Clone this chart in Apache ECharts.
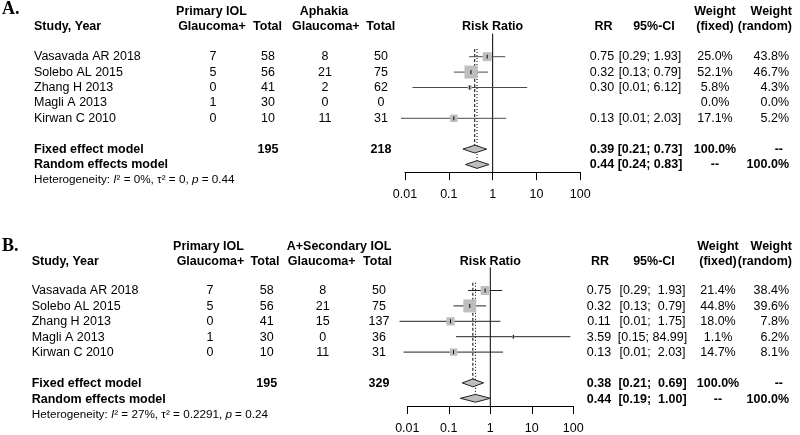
<!DOCTYPE html>
<html>
<head>
<meta charset="utf-8">
<script src="https://cdn.jsdelivr.net/npm/echarts@6/dist/echarts.min.js"></script>
<style>
  html, body { margin: 0; padding: 0; background: #fff; }
  #chart { width: 800px; height: 435px; }
</style>
</head>
<body>
<div id="chart"></div>
<script>
const studies = ['Vasavada AR 2018', 'Solebo AL 2015', 'Zhang H 2013', 'Magli A 2013', 'Kirwan C 2010'];
const modelLabels = ['Fixed effect model', 'Random effects model'];
const tickValues = [0.01, 0.1, 1, 10, 100];
const tickLabels = ['0.01', '0.1', '1', '10', '100'];

// A. primary IOL vs aphakia
const aExpEvents = [7, 5, 0, 1, 0];
const aExpTotal = [58, 56, 41, 30, 10];
const aCtrlEvents = [8, 21, 2, 0, 11];
const aCtrlTotal = [50, 75, 62, 0, 31];
const aRR = [0.75, 0.32, 0.30, null, 0.13];
const aLower = [0.29, 0.13, 0.0148, null, 0.0081];
const aUpper = [1.93, 0.79, 6.12, null, 2.03];
const aWeightFixed = [25.0, 52.1, 5.8, 0.0, 17.1];
const aWeightRandom = [43.8, 46.7, 4.3, 0.0, 5.2];
const aPooledRR = [0.39, 0.44];
const aPooledLower = [0.21, 0.24];
const aPooledUpper = [0.73, 0.83];
const aTotals = [195, 218];
const aHet = ['0%', '0', '0.44'];

// B. primary IOL vs aphakia + secondary IOL
const bExpEvents = [7, 5, 0, 1, 0];
const bExpTotal = [58, 56, 41, 30, 10];
const bCtrlEvents = [8, 21, 15, 0, 11];
const bCtrlTotal = [50, 75, 137, 36, 31];
const bRR = [0.75, 0.32, 0.11, 3.59, 0.13];
const bLower = [0.29, 0.13, 0.0065, 0.15, 0.0081];
const bUpper = [1.93, 0.79, 1.75, 84.99, 2.03];
const bWeightFixed = [21.4, 44.8, 18.0, 1.1, 14.7];
const bWeightRandom = [38.4, 39.6, 7.8, 6.2, 8.1];
const bPooledRR = [0.38, 0.44];
const bPooledLower = [0.21, 0.19];
const bPooledUpper = [0.69, 1.00];
const bTotals = [195, 329];
const bHet = ['27%', '0.2291', '0.24'];

const FONT = '"Liberation Sans", Arial, sans-serif';
const FS = 12.5;
const HET_FS = 11.7;

const panels = [
  {
    letter: 'A.', expLabel: 'Primary IOL', ctrlLabel: 'Aphakia',
    expEvents: aExpEvents, expTotal: aExpTotal, ctrlEvents: aCtrlEvents, ctrlTotal: aCtrlTotal,
    rr: aRR, lower: aLower, upper: aUpper, wFixed: aWeightFixed, wRandom: aWeightRandom,
    pooledRR: aPooledRR, pooledLower: aPooledLower, pooledUpper: aPooledUpper, totals: aTotals, het: aHet,
    L: {
      top: 33.6, height: 138.6, plotLeft: 405, plotWidth: 175.3, ciColor: '#4a4a4a',
      letterRow: -2.07, h1Row: -1.92, h2Row: -0.95,
      study: 34, g1: 213, n1: 268, g2: 325, n2: 381, rr: 602, ci: 650, wf: 715, wr: 789,
      h1: 211.5, g1H: 212, n1H: 267.5, h2: 324, g2H: 325.8, n2H: 380.8, rrH: 603.5, ciH: 654, wfH: 715, wrH: 792
    }
  },
  {
    letter: 'B.', expLabel: 'Primary IOL', ctrlLabel: 'A+Secondary IOL',
    expEvents: bExpEvents, expTotal: bExpTotal, ctrlEvents: bCtrlEvents, ctrlTotal: bCtrlTotal,
    rr: bRR, lower: bLower, upper: bUpper, wFixed: bWeightFixed, wRandom: bWeightRandom,
    pooledRR: bPooledRR, pooledLower: bPooledLower, pooledUpper: bPooledUpper, totals: bTotals, het: bHet,
    L: {
      top: 267.4, height: 139.95, plotLeft: 407.3, plotWidth: 166, ciColor: '#222',
      letterRow: -1.83, h1Row: -1.83, h2Row: -0.87,
      study: 31.7, g1: 210, n1: 266.7, g2: 322.7, n2: 379, rr: 599, ci: 652.5, wf: 718, wr: 789,
      h1: 208.5, g1H: 210.5, n1H: 265, h2: 339, g2H: 321.7, n2H: 377.5, rrH: 600, ciH: 654, wfH: 718, wrH: 792
    }
  }
];

function fmtCI(lo, up, wl, wu) {
  return '[' + lo.toFixed(2).padStart(wl) + '; ' + up.toFixed(2).padStart(wu) + ']';
}

const grids = [], xAxes = [], yAxes = [], series = [];

panels.forEach((p, k) => {
  const L = p.L;
  const tg = k * 2, pg = k * 2 + 1;
  grids.push({ left: 0, width: 800, top: L.top, height: L.height });
  grids.push({ left: L.plotLeft, width: L.plotWidth, top: L.top, height: L.height });

  xAxes.push({ gridIndex: tg, type: 'value', min: 0, max: 800, show: false });
  xAxes.push({
    gridIndex: pg, type: 'log', logBase: 10, min: 0.01, max: 100, position: 'bottom',
    axisLine: { show: true, onZero: false, lineStyle: { color: '#000', width: 1 } },
    axisTick: { show: true, inside: false, length: 8, lineStyle: { color: '#000' } },
    axisLabel: {
      color: '#000', fontSize: FS, fontFamily: FONT, margin: 16,
      formatter: v => {
        const i = tickValues.findIndex(t => Math.abs(Math.log10(t) - Math.log10(v)) < 1e-6);
        return i >= 0 ? tickLabels[i] : '';
      }
    },
    splitLine: { show: false }
  });
  [tg, pg].forEach(g => yAxes.push({ gridIndex: g, type: 'value', min: -0.5, max: 8.5, inverse: true, show: false }));

  // table text cells
  const cells = [];
  const add = (x, row, text, bold, align) => cells.push({ x, row, text: String(text), bold, align: align || 'center' });
  const wl = Math.max(...p.lower.concat(p.pooledLower).filter(v => v != null).map(v => v.toFixed(2).length));
  const wu = Math.max(...p.upper.concat(p.pooledUpper).filter(v => v != null).map(v => v.toFixed(2).length));

  cells.push({ x: 2, row: L.letterRow, text: p.letter, font: 'bold 18px "Liberation Serif", "Times New Roman", serif', align: 'left' });
  add(L.h1, L.h1Row, p.expLabel, true);
  add(L.h2, L.h1Row, p.ctrlLabel, true);
  add(L.wfH, L.h1Row, 'Weight', true);
  add(L.wrH, L.h1Row, 'Weight', true, 'right');
  add(L.study, L.h2Row, 'Study, Year', true, 'left');
  add(L.g1H, L.h2Row, 'Glaucoma+', true);
  add(L.n1H, L.h2Row, 'Total', true);
  add(L.g2H, L.h2Row, 'Glaucoma+', true);
  add(L.n2H, L.h2Row, 'Total', true);
  add(L.rrH, L.h2Row, 'RR', true);
  add(L.ciH, L.h2Row, '95%-CI', true);
  add(L.wfH, L.h2Row, '(fixed)', true);
  add(L.wrH, L.h2Row, '(random)', true, 'right');

  studies.forEach((s, i) => {
    const row = i + 1;
    add(L.study, row, s, false, 'left');
    add(L.g1, row, p.expEvents[i]);
    add(L.n1, row, p.expTotal[i]);
    add(L.g2, row, p.ctrlEvents[i]);
    add(L.n2, row, p.ctrlTotal[i]);
    if (p.rr[i] != null) {
      add(L.rr, row, p.rr[i].toFixed(2));
      add(L.ci, row, fmtCI(p.lower[i], p.upper[i], wl, wu));
    }
    add(L.wf, row, p.wFixed[i].toFixed(1) + '%');
    add(L.wr, row, p.wRandom[i].toFixed(1) + '%', false, 'right');
  });

  modelLabels.forEach((m, j) => {
    const row = 7 + j;
    add(L.study, row, m, true, 'left');
    if (j === 0) {
      add(L.n1, row, p.totals[0], true);
      add(L.n2, row, p.totals[1], true);
    }
    add(L.rr, row, p.pooledRR[j].toFixed(2), true);
    add(L.ci, row, fmtCI(p.pooledLower[j], p.pooledUpper[j], wl, wu), true);
    add(L.wf, row, j === 0 ? '100.0%' : '--', true);
    add(j === 0 ? L.wr - 6 : L.wr, row, j === 0 ? '--' : '100.0%', true, 'right');
  });

  cells.push({
    x: L.study, row: 9, align: 'left',
    text: '{n|Heterogeneity: }{i|I}{n|\u00b2 = ' + p.het[0] + ', \u03c4\u00b2 = ' + p.het[1] + ', }{i|p}{n| = ' + p.het[2] + '}',
    rich: {
      n: { fontSize: HET_FS, fontFamily: FONT, fill: '#000' },
      i: { fontSize: HET_FS, fontFamily: FONT, fontStyle: 'italic', fill: '#000' }
    }
  });

  series.push({
    type: 'custom', xAxisIndex: tg, yAxisIndex: tg, clip: false, silent: true,
    data: cells.map(c => [c.x, c.row]),
    renderItem: (params, api) => {
      const c = cells[params.dataIndex];
      const pt = api.coord([api.value(0), api.value(1)]);
      const style = {
        text: c.text, fill: '#000',
        font: c.font || ((c.bold ? 'bold ' : '') + FS + 'px ' + FONT),
        textAlign: c.align, textVerticalAlign: 'middle'
      };
      if (c.rich) style.rich = c.rich;
      return { type: 'text', x: pt[0], y: pt[1], style };
    }
  });

  // reference lines: no effect, fixed (dashed), random (dotted)
  const refX = [1, p.pooledRR[0], p.pooledRR[1]];
  const refFrom = [-0.5, 0.5, 0.5];
  const refTo = [8.5, 7, 8];
  const refDash = [null, [3, 2], [1, 2]];
  series.push({
    type: 'custom', xAxisIndex: pg, yAxisIndex: pg, clip: false, silent: true, z: 1,
    data: refX.map((x, i) => [x, refFrom[i], refTo[i]]),
    renderItem: (params, api) => {
      const a = api.coord([api.value(0), api.value(1)]);
      const b = api.coord([api.value(0), api.value(2)]);
      const dash = refDash[params.dataIndex];
      return {
        type: 'line', shape: { x1: a[0], y1: a[1], x2: b[0], y2: b[1] },
        style: { stroke: '#000', lineWidth: 1, lineDash: dash || null }
      };
    }
  });

  // study estimates: CI line, weighted box, estimate tick
  const maxW = Math.max(...p.wFixed);
  const studyData = [];
  p.rr.forEach((r, i) => { if (r != null) studyData.push([r, i + 1, p.lower[i], p.upper[i], p.wFixed[i]]); });
  series.push({
    type: 'custom', xAxisIndex: pg, yAxisIndex: pg, clip: false, silent: true, z: 3,
    data: studyData,
    renderItem: (params, api) => {
      const row = api.value(1);
      const c = api.coord([api.value(0), row]);
      const lo = api.coord([api.value(2), row]);
      const up = api.coord([api.value(3), row]);
      const s = 13 * Math.sqrt(api.value(4) / maxW);
      return {
        type: 'group',
        children: [
          { type: 'line', shape: { x1: lo[0], y1: c[1], x2: up[0], y2: c[1] }, style: { stroke: L.ciColor, lineWidth: 1 } },
          { type: 'rect', shape: { x: c[0] - s / 2, y: c[1] - s / 2, width: s, height: s }, style: { fill: '#bebebe' } },
          { type: 'line', shape: { x1: c[0], y1: c[1] - 2, x2: c[0], y2: c[1] + 2 }, style: { stroke: '#000', lineWidth: 1 } }
        ]
      };
    }
  });

  // pooled diamonds
  series.push({
    type: 'custom', xAxisIndex: pg, yAxisIndex: pg, clip: false, silent: true, z: 3,
    data: p.pooledRR.map((r, j) => [r, 7 + j, p.pooledLower[j], p.pooledUpper[j]]),
    renderItem: (params, api) => {
      const row = api.value(1);
      const c = api.coord([api.value(0), row]);
      const lo = api.coord([api.value(2), row]);
      const up = api.coord([api.value(3), row]);
      const h = 3.9;
      return {
        type: 'polygon',
        shape: { points: [[lo[0], c[1]], [c[0], c[1] - h], [up[0], c[1]], [c[0], c[1] + h]] },
        style: { fill: '#bebebe', stroke: '#222', lineWidth: 1 }
      };
    }
  });

  // "Risk Ratio" header centred on the null line
  series.push({
    type: 'custom', xAxisIndex: pg, yAxisIndex: pg, clip: false, silent: true, z: 4,
    data: [[1, L.h2Row]],
    renderItem: (params, api) => {
      const pt = api.coord([api.value(0), api.value(1)]);
      return {
        type: 'text', x: pt[0], y: pt[1],
        style: { text: 'Risk Ratio', fill: '#000', font: 'bold ' + FS + 'px ' + FONT, textAlign: 'center', textVerticalAlign: 'middle' }
      };
    }
  });
});

const chart = echarts.init(document.getElementById('chart'), null, { renderer: 'canvas' });
chart.setOption({
  animation: false,
  backgroundColor: '#fff',
  grid: grids,
  xAxis: xAxes,
  yAxis: yAxes,
  series: series
});
</script>
</body>
</html>
